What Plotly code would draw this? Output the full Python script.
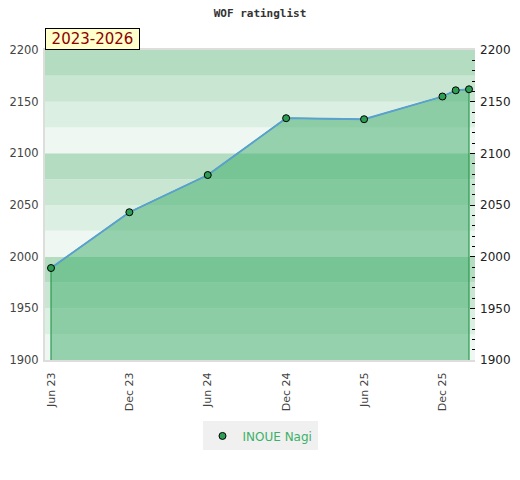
import plotly.graph_objects as go

dates = ["2023-06-01", "2023-12-01", "2024-06-01", "2024-12-01",
         "2025-06-01", "2025-12-01", "2026-01-01", "2026-02-01"]
ratings = [1989, 2043, 2079, 2134, 2133, 2155, 2161, 2162]
tick_dates = ["2023-06-01", "2023-12-01", "2024-06-01", "2024-12-01",
              "2025-06-01", "2025-12-01"]
tick_labels = ["Jun 23", "Dec 23", "Jun 24", "Dec 24", "Jun 25", "Dec 25"]
y_ticks = [1900, 1950, 2000, 2050, 2100, 2150, 2200]
player = "INOUE Nagi"
title = "WOF ratinglist"
period = "2023-2026"

band_colors = ["#eef7f1", "#dcefe3", "#c9e6d3", "#b3dcc1"]
YMIN, YMAX = 1900, 2200

fig = go.Figure()

shapes = []
for i, y0 in enumerate(range(YMIN, YMAX, 25)):
    shapes.append(dict(type="rect", xref="paper", yref="y", x0=0, x1=1,
                       y0=y0, y1=y0 + 25, fillcolor=band_colors[i % 4],
                       line=dict(width=0), layer="below"))

poly_x = [dates[0]] + dates + [dates[-1]]
poly_y = [YMIN] + ratings + [YMIN]
fig.add_trace(go.Scatter(x=poly_x, y=poly_y, mode="lines", fill="toself",
                         fillcolor="rgba(60,172,105,0.5)",
                         line=dict(color="#2e9950", width=1.2),
                         showlegend=False, hoverinfo="skip"))
fig.add_trace(go.Scatter(x=dates, y=ratings, mode="lines",
                         line=dict(color="#5aa0d2", width=1.8),
                         showlegend=False, hoverinfo="skip"))
fig.add_trace(go.Scatter(x=dates, y=ratings, mode="markers", name=player,
                         marker=dict(color="#2e9e55", size=7,
                                     line=dict(color="black", width=1))))
fig.add_trace(go.Scatter(x=[dates[0]], y=[ratings[0]], yaxis="y2",
                         mode="markers", marker=dict(opacity=0),
                         showlegend=False, hoverinfo="skip"))

W, H = 512, 472
fig.update_layout(
    width=W, height=H,
    margin=dict(l=37, r=45, t=42, b=120, autoexpand=False),
    paper_bgcolor="white", plot_bgcolor="white",
    shapes=shapes,
    title=dict(text="<b>" + title + "</b>", x=(260 - 8) / W, xanchor="center",
               y=1 - 5 / H, yanchor="middle",
               font=dict(family="DejaVu Sans Mono", size=11, color="#333")),
    xaxis=dict(type="date", range=["2023-05-18", "2026-02-15"],
               tickmode="array", tickvals=tick_dates, ticktext=tick_labels,
               tickangle=-90, ticks="", showgrid=False, zeroline=False,
               automargin=False, ticklabelstandoff=6,
               showline=True, linecolor="#dddddd", linewidth=2, mirror=True,
               tickfont=dict(family="DejaVu Sans", size=11, color="#444")),
    yaxis=dict(range=[YMIN, YMAX], tickmode="array", tickvals=y_ticks,
               ticks="", showgrid=False, zeroline=False, automargin=False,
               ticklabelstandoff=2,
               showline=True, linecolor="#dddddd", linewidth=2,
               tickfont=dict(family="DejaVu Sans", size=11.5, color="#444")),
    yaxis2=dict(range=[YMIN, YMAX], overlaying="y", side="right",
                tickmode="array", tickvals=y_ticks, ticks="inside",
                ticklen=5, tickcolor="black", showgrid=False, zeroline=False,
                automargin=False, ticklabelstandoff=4,
                minor=dict(dtick=10, tick0=1900, ticks="inside", ticklen=3,
                           tickcolor="black", showgrid=False),
                tickfont=dict(family="DejaVu Sans", size=12, color="#222")),
    legend=dict(orientation="h", x=0.5, xanchor="center", y=-0.245,
                yanchor="middle", bgcolor="#f0f0f0",
                font=dict(family="DejaVu Sans", size=12, color="#3cb068")),
    annotations=[dict(text=period, xref="paper", yref="paper", x=0, y=1,
                      xanchor="left", yanchor="bottom", showarrow=False,
                      width=93, height=20,
                      bgcolor="#ffffcc", bordercolor="black", borderwidth=1,
                      borderpad=0,
                      font=dict(family="DejaVu Sans", size=15, color="#8b0000"))],
)

fig.write_html("out.html")
